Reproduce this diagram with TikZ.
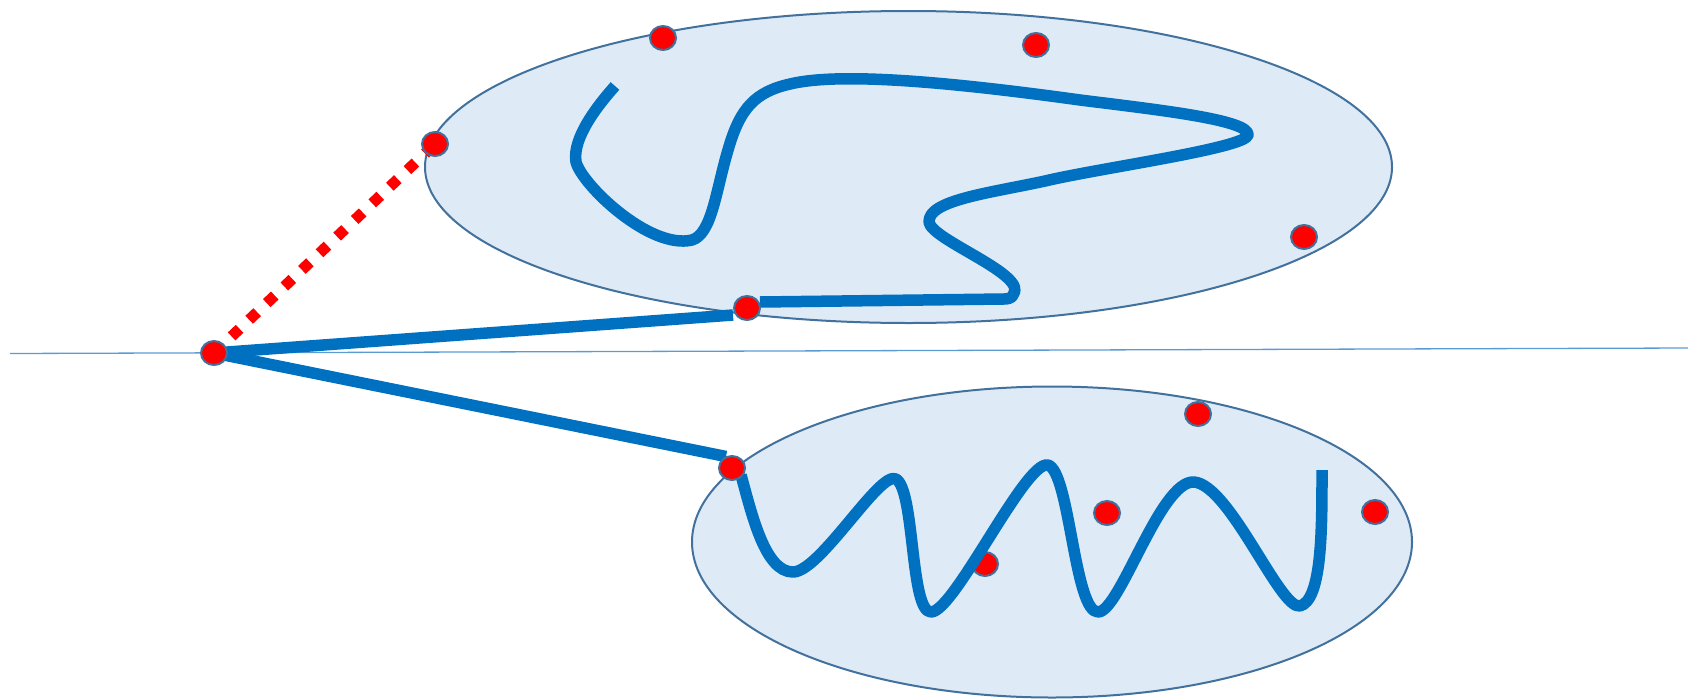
\documentclass[tikz,border=0pt]{standalone}
\usetikzlibrary{shapes.geometric}
\definecolor{lineblue}{HTML}{0070C0}
\definecolor{fillblue}{HTML}{DEEBF7}
\definecolor{edgeblue}{HTML}{41719C}
\definecolor{thinblue}{HTML}{5B9BD5}
\definecolor{dotred}{HTML}{FF0000}
\tikzset{
  region/.style={ellipse, draw=edgeblue, fill=fillblue, line width=2pt, inner sep=0pt},
  reddot/.style={ellipse, draw=edgeblue, fill=dotred, line width=2pt, minimum width=26pt, minimum height=24pt, inner sep=0pt},
  thick path/.style={draw=lineblue, line width=11.5pt, line cap=butt, line join=round},
  dotted link/.style={draw=dotred, line width=11pt, dash pattern=on 11pt off 13.2pt},
  axis line/.style={draw=thinblue, line width=1.3pt}
}
\begin{document}
\begin{tikzpicture}[x=1pt,y=-1pt]
\useasboundingbox (0,0) rectangle (1688,699);
% regions
\node[region, minimum width=967pt, minimum height=312pt] (top) at (908.5,167) {};
\node[region, minimum width=720pt, minimum height=311pt] (bot) at (1052,542) {};
% horizontal line
\coordinate (hl) at (10,353.5);
\coordinate (hr) at (1688,348);
\draw[axis line] (hl) -- (hr);
% dot positions
\coordinate (pA) at (214,353);
\coordinate (pD) at (435,144);
% dotted link
\draw[dotted link] (pA) -- (pD);
% thick straight links
\coordinate (eB) at (733,315);
\coordinate (eC) at (726,456.5);
\draw[thick path] (pA) -- (eB);
\draw[thick path] (pA) -- (eC);
% dot under the wave
\node[reddot] (d8) at (985,564) {};
% top curve
\coordinate (sT) at (615,86);
\draw[thick path] (sT) .. controls (598,105) and (572,138) .. (576,162)
  .. controls (582,185) and (650,250) .. (692,240)
  .. controls (712,234) and (716,190) .. (728,150)
  .. controls (740,108) and (755,92) .. (790,84)
  .. controls (840,72) and (950,82) .. (1080,100)
  .. controls (1160,110) and (1250,120) .. (1248,135)
  .. controls (1246,148) and (1100,168) .. (1045,181)
  .. controls (990,193) and (928,200) .. (929,222)
  .. controls (931,240) and (1030,275) .. (1013,295)
  .. controls (1012,298) and (1008,299) .. (1004,299)
  -- (760,302);
% lower wave
\coordinate (sW) at (741,475);
\draw[thick path] (sW) .. controls (752,515) and (765,572) .. (793,572)
  .. controls (820,572) and (880,470) .. (896,479)
  .. controls (915,490) and (910,612) .. (931,612)
  .. controls (955,612) and (1030,450) .. (1050,466)
  .. controls (1070,480) and (1075,612) .. (1098,612)
  .. controls (1120,612) and (1160,480) .. (1194,482)
  .. controls (1230,485) and (1280,610) .. (1300,606)
  .. controls (1322,600) and (1322,530) .. (1322,470);
% dots
\node[reddot] (dA) at (pA) {};
\node[reddot] (dD) at (pD) {};
\node[reddot] (d1) at (663,38) {};
\node[reddot] (d2) at (1036,45) {};
\node[reddot] (d3) at (1304,237) {};
\node[reddot] (dB) at (747,308) {};
\node[reddot] (d4) at (1198,414) {};
\node[reddot] (dC) at (732,468) {};
\node[reddot] (d5) at (1107,513) {};
\node[reddot] (d6) at (1375,512) {};
\end{tikzpicture}
\end{document}
